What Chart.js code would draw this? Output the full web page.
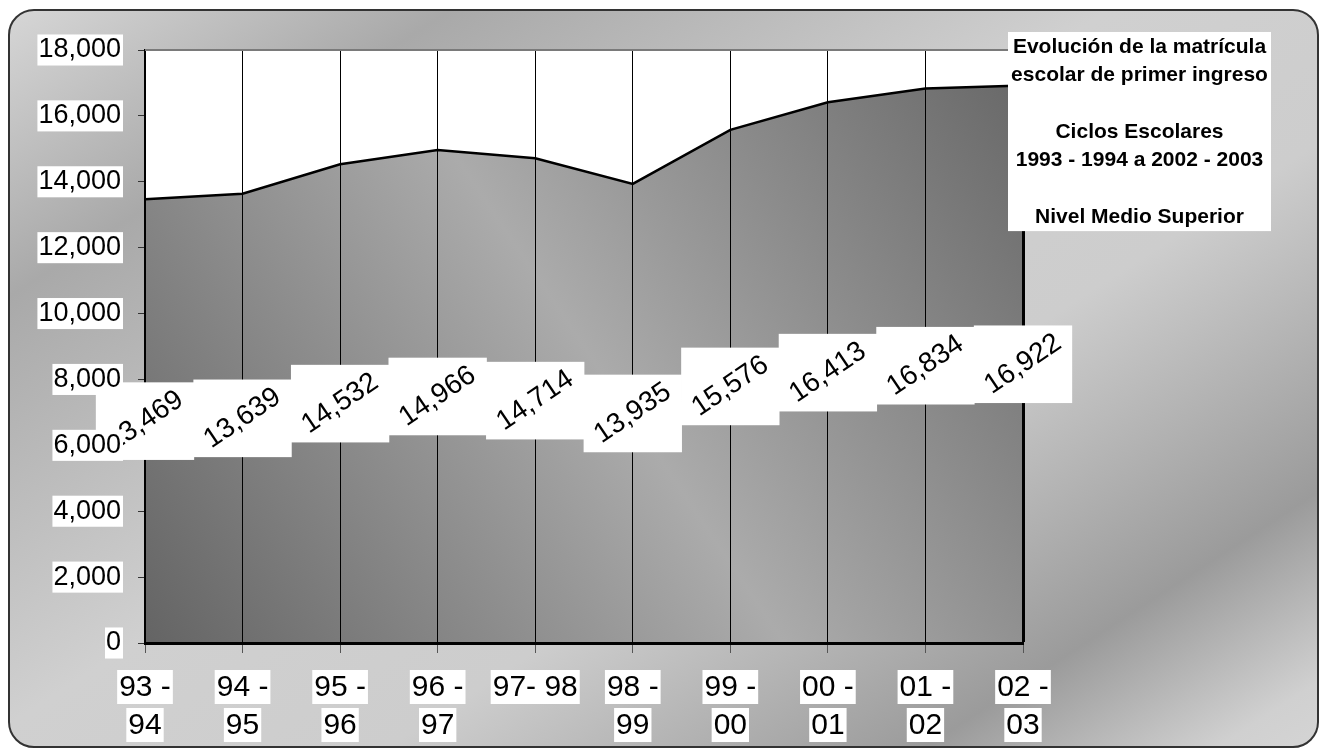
<!DOCTYPE html>
<html lang="es">
<head>
<meta charset="utf-8">
<title>Evolución de la matrícula escolar de primer ingreso</title>
<script src="https://cdn.jsdelivr.net/npm/chart.js@4.4.0/dist/chart.umd.min.js"></script>
<style>
  html, body { margin: 0; padding: 0; background: #fff; }
  body { width: 1324px; height: 753px; position: relative; overflow: hidden; }
  .panel {
    position: absolute; left: 8px; top: 9px; width: 1307px; height: 735px;
    border: 2px solid #333; border-radius: 26px;
    background: linear-gradient(147deg, #d6d6d6 0%, #a9a9a9 18%, #d0d0d0 45%, #cdcdcd 62%, #9b9b9b 84%, #d0d0d0 96%, #d4d4d4 100%);
  }
  #chart { position: absolute; left: 0; top: 0; }
</style>
</head>
<body>
<div class="panel"></div>
<canvas id="chart" width="1324" height="753"></canvas>
<script>
// ciclos escolares (eje x) y matrícula de primer ingreso
var cycles = [['93 -', '94'], ['94 -', '95'], ['95 -', '96'], ['96 -', '97'], ['97- 98'],
              ['98 -', '99'], ['99 -', '00'], ['00 -', '01'], ['01 -', '02'], ['02 -', '03']];
var enrollment = [13469, 13639, 14532, 14966, 14714, 13935, 15576, 16413, 16834, 16922];
var yMin = 0, yMax = 18000, yStep = 2000;
var titleLines = ['Evolución de la matrícula', 'escolar de primer ingreso', '',
                  'Ciclos Escolares', '1993 - 1994 a 2002 - 2003', '', 'Nivel Medio Superior'];

var FONT = "'Liberation Sans', Arial, sans-serif";

function fmt(v) { return v.toLocaleString('en-US'); }

function areaGradient(context) {
    var chart = context.chart;
    var a = chart.chartArea;
    if (!a) return '#999';
    var g = chart.ctx.createLinearGradient(a.left, a.bottom, a.right, a.top);
    g.addColorStop(0, '#646464');
    g.addColorStop(0.5, '#ababab');
    g.addColorStop(1, '#666666');
    return g;
}

// borde superior del área, etiquetas de datos
var valueLabels = {
    id: 'valueLabels',
    afterDatasetsDraw: function (chart) {
        var ctx = chart.ctx, a = chart.chartArea;
        var xs = chart.scales.x, ys = chart.scales.y;
        ctx.save();
        ctx.strokeStyle = '#7a7a7a';
        ctx.lineWidth = 2;
        ctx.beginPath();
        ctx.moveTo(a.left, a.top);
        ctx.lineTo(a.right, a.top);
        ctx.stroke();

        var ang = 34 * Math.PI / 180;
        ctx.font = '28px ' + FONT;
        ctx.textAlign = 'center';
        ctx.textBaseline = 'middle';
        enrollment.forEach(function (v, i) {
            var cx = xs.getPixelForValue(i);
            var cy = ys.getPixelForValue(v / 2);
            var txt = fmt(v);
            var w = ctx.measureText(txt).width, h = 31;
            var bw = w * Math.cos(ang) + h * Math.sin(ang) + 10;
            var bh = w * Math.sin(ang) + h * Math.cos(ang) + 4;
            ctx.fillStyle = '#fff';
            ctx.fillRect(cx - bw / 2, cy - bh / 2, bw, bh);
            ctx.save();
            ctx.translate(cx, cy);
            ctx.rotate(-ang);
            ctx.fillStyle = '#000';
            ctx.fillText(txt, 0, 0);
            ctx.restore();
        });
        ctx.restore();
    },
    afterDraw: function (chart) {
        var ctx = chart.ctx, a = chart.chartArea, xs = chart.scales.x;
        ctx.save();
        // etiquetas del eje x con fondo blanco por renglón
        ctx.font = '30px ' + FONT;
        ctx.textAlign = 'center';
        ctx.textBaseline = 'middle';
        cycles.forEach(function (lines, i) {
            var cx = xs.getPixelForTick(i);
            lines.forEach(function (t, j) {
                var cy = a.bottom + 44 + j * 38;
                var w = ctx.measureText(t).width;
                ctx.fillStyle = '#fff';
                ctx.fillRect(cx - w / 2 - 2, cy - 17, w + 4, 34);
                ctx.fillStyle = '#000';
                ctx.fillText(t, cx, cy + 1);
            });
        });

        // cuadro de título
        var bx = a.right - 15, by = 32, bw = 263, lh = 28.3;
        ctx.fillStyle = '#fff';
        ctx.fillRect(bx, by, bw, lh * titleLines.length + 1);
        ctx.fillStyle = '#000';
        ctx.font = 'bold 21px ' + FONT;
        titleLines.forEach(function (t, i) {
            if (t) ctx.fillText(t, bx + bw / 2, by + lh / 2 + i * lh + 1);
        });
        ctx.restore();
    }
};

new Chart(document.getElementById('chart'), {
    type: 'line',
    data: {
        labels: cycles,
        datasets: [{
            label: 'Matrícula',
            data: enrollment,
            borderColor: '#000',
            borderWidth: 2.5,
            backgroundColor: areaGradient,
            fill: 'origin',
            pointRadius: 0,
            tension: 0
        }, {
            label: 'fondo',
            data: enrollment,
            borderColor: 'transparent',
            borderWidth: 0,
            backgroundColor: '#fff',
            fill: 'end',
            pointRadius: 0
        }]
    },
    options: {
        responsive: false,
        devicePixelRatio: 1,
        animation: false,
        layout: { padding: { left: 0, top: 50, right: 301, bottom: 0 } },
        plugins: {
            legend: { display: false },
            tooltip: { enabled: false },
            filler: { drawTime: 'beforeDraw' }
        },
        scales: {
            x: {
                afterFit: function (s) { s.height = 110; },
                ticks: { display: false },
                grid: {
                    color: '#000',
                    lineWidth: function (c) { return c.index === cycles.length - 1 ? 3 : 1; },
                    tickColor: '#555',
                    tickWidth: 1,
                    tickLength: 10
                },
                border: { display: true, color: '#000', width: 3 }
            },
            y: {
                min: yMin,
                max: yMax,
                afterFit: function (s) { s.width = 145; },
                ticks: {
                    stepSize: yStep,
                    z: 1,
                    padding: 17,
                    color: '#000',
                    font: { family: FONT, size: 27, lineHeight: 1.15 },
                    showLabelBackdrop: true,
                    backdropColor: '#fff',
                    backdropPadding: { left: 1, right: 2, top: 0, bottom: 0 },
                    callback: function (v) { return fmt(v); }
                },
                grid: {
                    drawOnChartArea: false,
                    drawTicks: true,
                    tickLength: 7,
                    tickColor: '#333',
                    color: '#333'
                },
                border: { display: true, color: '#000', width: 2 }
            }
        }
    },
    plugins: [valueLabels]
});
</script>
</body>
</html>
